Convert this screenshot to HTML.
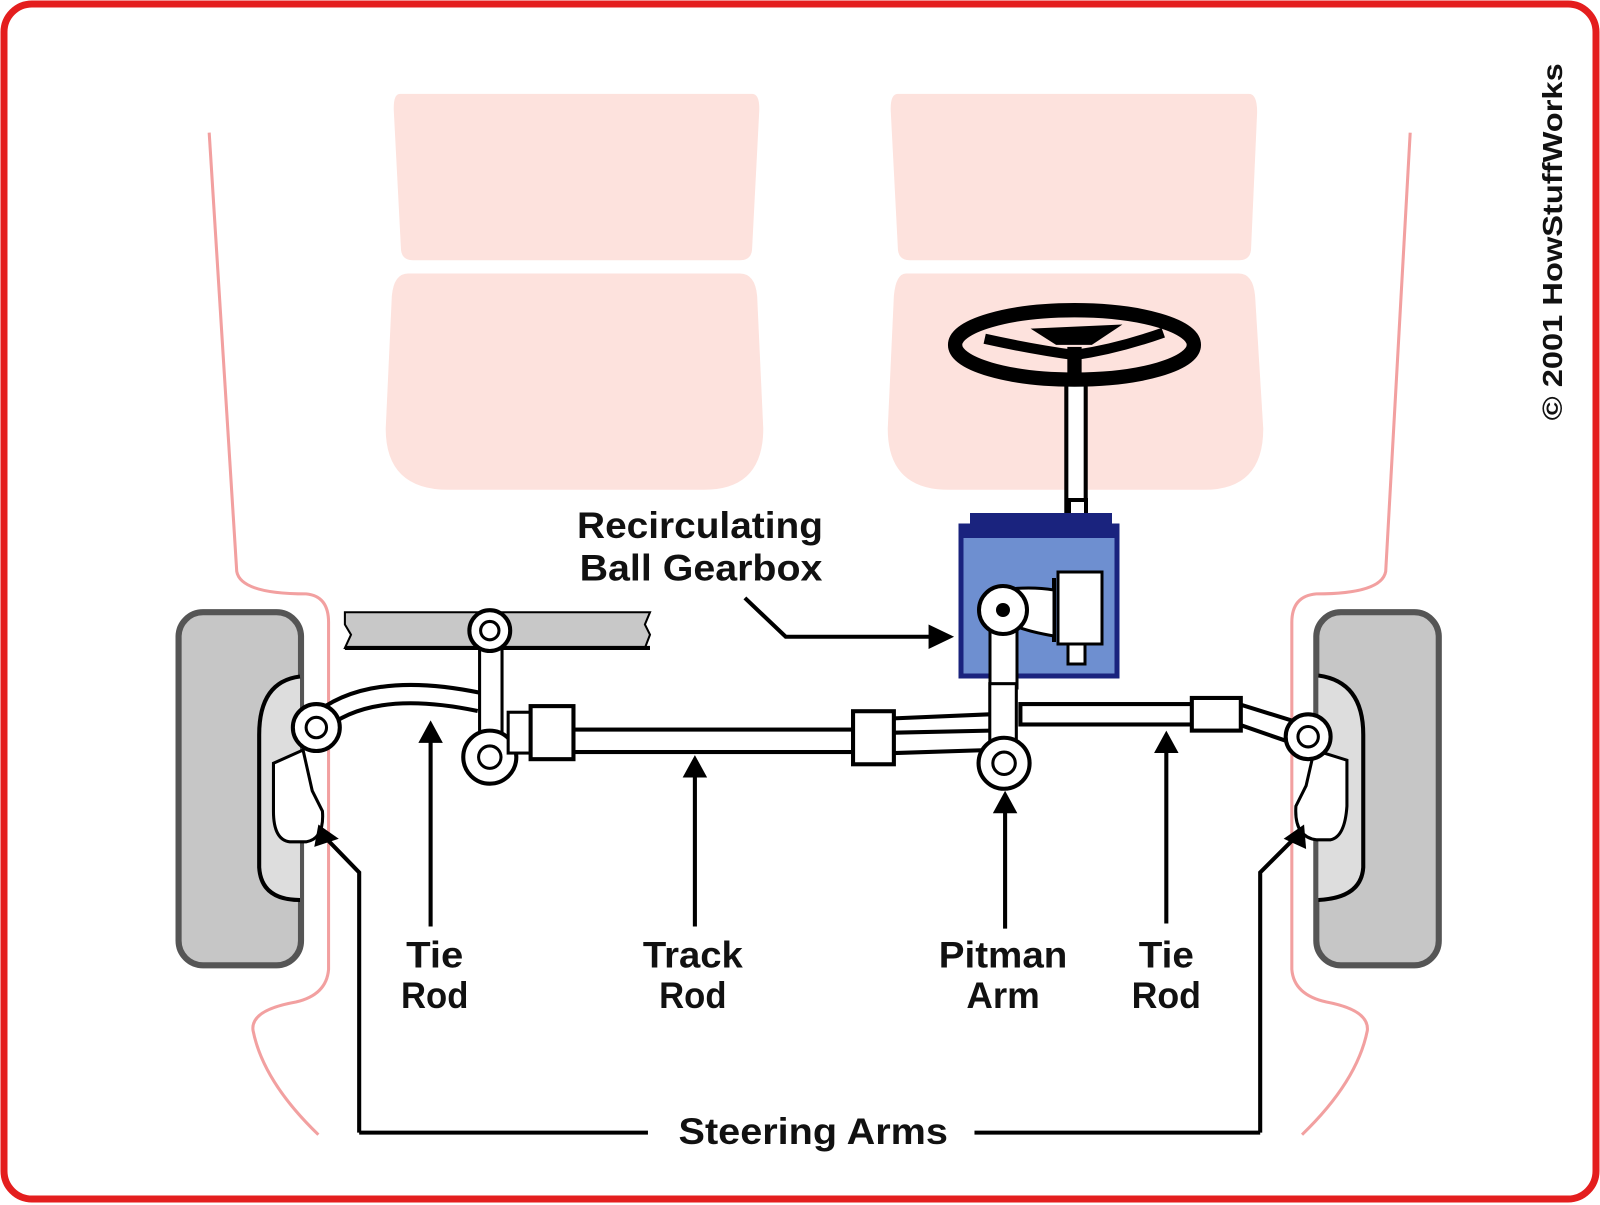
<!DOCTYPE html>
<html><head><meta charset="utf-8"><style>
html,body{margin:0;padding:0;background:#fff;}
svg{display:block;}
text{font-family:"Liberation Sans",sans-serif;font-weight:bold;fill:#111;}
</style></head><body>
<svg width="1600" height="1205" viewBox="0 0 1600 1205" xmlns="http://www.w3.org/2000/svg">
<rect x="4" y="4" width="1592" height="1195" rx="28" fill="#fff" stroke="#e41e1e" stroke-width="7"/>
<g transform="scale(1.0204)">
<!-- body outline -->
<path d="M205,130 L232,560 Q236,582 300,582 Q322,584 322,610 L322,950 Q320,975 290,982 Q245,990 248,1010 Q258,1060 312,1112" fill="none" stroke="#f2a0a0" stroke-width="3"/>
<path d="M1382,130 L1358,560 Q1354,582 1290,582 Q1266,584 1266,610 L1266,950 Q1268,975 1300,982 Q1342,990 1340,1010 Q1330,1060 1276,1112" fill="none" stroke="#f2a0a0" stroke-width="3"/>
<!-- seats -->
<g fill="#fde2dd">
<path d="M392,92 H737 Q745,92 744,110 L737,245 Q736,255 725,255 H405 Q394,255 393,245 L386,110 Q385,92 392,92Z"/>
<path d="M400,268 H725 Q740,268 742,290 L748,420 Q748,480 690,480 H440 Q378,480 378,420 L384,290 Q386,268 400,268Z"/>
<path d="M880,92 H1224 Q1232,92 1232,110 L1226,245 Q1225,255 1214,255 H892 Q881,255 880,245 L873,110 Q872,92 880,92Z"/>
<path d="M888,268 H1214 Q1228,268 1230,290 L1238,420 Q1238,480 1180,480 H930 Q870,480 870,420 L876,290 Q878,268 888,268Z"/>
</g>
<!-- steering wheel -->
<rect x="1045" y="372" width="19" height="140" fill="#fff" stroke="#000" stroke-width="4"/>
<ellipse cx="1053" cy="338" rx="117" ry="34" fill="none" stroke="#000" stroke-width="14"/>
<path d="M965,332 Q1010,342 1053,348 Q1095,342 1140,326" fill="none" stroke="#000" stroke-width="10"/>
<path d="M1010,322 L1100,318 L1070,338 L1035,338Z" fill="#000"/>
<rect x="1046" y="340" width="14" height="34" fill="#000"/>
</g>
<!-- gearbox (original coords) -->
<rect x="1069" y="500" width="17" height="75" fill="#fff" stroke="#000" stroke-width="4"/>
<path d="M970,513 H1112 V527 H970Z" fill="#1a237e"/>
<rect x="961" y="526" width="156" height="150" fill="#6e8fd0" stroke="#1a237e" stroke-width="5"/>
<rect x="963" y="528" width="152" height="10" fill="#1a237e"/>
<rect x="1058" y="572" width="44" height="72" fill="#fff" stroke="#000" stroke-width="3"/>
<rect x="1068" y="644" width="17" height="20" fill="#fff" stroke="#000" stroke-width="3"/>
<path d="M1054,578 V642" stroke="#000" stroke-width="4"/>
<path d="M1000,590 Q1030,586 1054,590 V636 Q1030,632 1015,626" fill="#fff" stroke="#000" stroke-width="3"/>
<rect x="990" y="628" width="27" height="60" fill="#fff" stroke="#000" stroke-width="3"/>
<circle cx="1003" cy="610" r="24" fill="#fff" stroke="#000" stroke-width="4"/>
<circle cx="1003" cy="610" r="7" fill="#000"/>
<g transform="scale(1.0204)">
<!-- wheels -->
<rect x="175" y="600" width="120" height="346" rx="24" fill="#c6c6c6" stroke="#555" stroke-width="6"/>
<rect x="1290" y="600" width="120" height="346" rx="24" fill="#c6c6c6" stroke="#555" stroke-width="6"/>
<path d="M294,663 Q254,668 254,720 V850 Q256,882 294,882" fill="#ddd" stroke="#000" stroke-width="4"/>
<path d="M1292,662 Q1336,668 1336,720 V850 Q1334,880 1292,882" fill="#ddd" stroke="#000" stroke-width="4"/>
<path d="M297,735 L306,775 L316,795 Q318,822 300,825 H284 Q268,823 268,795 V748Z" fill="#fff" stroke="#000" stroke-width="3"/>
<path d="M1288,735 L1280,770 L1270,790 Q1268,820 1290,823 H1304 Q1318,820 1320,790 V745Z" fill="#fff" stroke="#000" stroke-width="3"/>
<!-- frame rail -->
<path d="M338,600 H637 L632,612 L637,622 L632,635 H338 L344,622 L338,612Z" fill="#c8c8c8" stroke="#000" stroke-width="2"/>
<line x1="338" y1="635" x2="637" y2="635" stroke="#000" stroke-width="4"/>
<!-- left tie rod curve -->
<path d="M310,710 Q360,665 470,688" fill="none" stroke="#000" stroke-width="22"/>
<path d="M310,710 Q360,665 470,688" fill="none" stroke="#fff" stroke-width="14"/>
<!-- idler arm -->
<rect x="470" y="620" width="22" height="122" fill="#fff" stroke="#000" stroke-width="3"/>
<circle cx="480" cy="618" r="20" fill="#fff" stroke="#000" stroke-width="4"/>
<circle cx="480" cy="618" r="9" fill="#fff" stroke="#000" stroke-width="3"/>
<circle cx="480" cy="742" r="26" fill="#fff" stroke="#000" stroke-width="4"/>
<circle cx="480" cy="742" r="11" fill="#fff" stroke="#000" stroke-width="3"/>
<!-- track rod -->
<rect x="552" y="715" width="295" height="22" fill="#fff" stroke="#000" stroke-width="4"/>
<rect x="498" y="698" width="22" height="40" fill="#fff" stroke="#000" stroke-width="3"/>
<rect x="520" y="692" width="42" height="52" fill="#fff" stroke="#000" stroke-width="4"/>
<rect x="836" y="697" width="40" height="52" fill="#fff" stroke="#000" stroke-width="4"/>
<path d="M876,704 L970,700 M876,738 L970,735 M876,718 L970,716" stroke="#000" stroke-width="4"/>
<!-- right tie rod -->
<rect x="1000" y="690" width="170" height="20" fill="#fff" stroke="#000" stroke-width="4"/>
<path d="M1214,690 L1272,708 M1214,710 L1266,728" stroke="#000" stroke-width="4"/>
<path d="M1214,693 L1270,712 L1266,724 L1214,707Z" fill="#fff"/>
<rect x="1168" y="684" width="48" height="32" fill="#fff" stroke="#000" stroke-width="4"/>
<!-- pitman lower -->
<rect x="970" y="670" width="26" height="70" fill="#fff" stroke="#000" stroke-width="3"/>
<circle cx="984" cy="748" r="25" fill="#fff" stroke="#000" stroke-width="4"/>
<circle cx="984" cy="748" r="11" fill="#fff" stroke="#000" stroke-width="3"/>
<!-- ball joints -->
<circle cx="310" cy="713" r="23" fill="#fff" stroke="#000" stroke-width="4"/>
<circle cx="310" cy="713" r="10" fill="#fff" stroke="#000" stroke-width="3"/>
<circle cx="1282" cy="722" r="22" fill="#fff" stroke="#000" stroke-width="4"/>
<circle cx="1282" cy="722" r="10" fill="#fff" stroke="#000" stroke-width="3"/>
<!-- arrows -->
<g stroke="#000" stroke-width="4" fill="none">
<path d="M422,908 V725"/><path d="M681,908 V760"/><path d="M985,910 V795"/><path d="M1143,905 V735"/>
<path d="M730,586 L770,624 H915"/>
<path d="M352,1110 V855 L320,822"/><path d="M1235,1110 V855 L1268,822"/>
<path d="M352,1110 H635"/><path d="M955,1110 H1235"/>
</g>
<g fill="#000">
<path d="M410,728 L422,706 L434,728Z"/><path d="M669,762 L681,740 L693,762Z"/><path d="M973,797 L985,775 L997,797Z"/><path d="M1131,738 L1143,716 L1155,738Z"/>
<path d="M910,612 L935,624 L910,636Z"/>
<path d="M308,830 L312,808 L332,822Z"/><path d="M1258,822 L1278,808 L1280,832Z"/>
</g>
<!-- labels -->
<g font-size="36" text-anchor="middle" lengthAdjust="spacingAndGlyphs">
<text x="426" y="948" textLength="56" lengthAdjust="spacingAndGlyphs">Tie</text><text x="426" y="988" textLength="66" lengthAdjust="spacingAndGlyphs">Rod</text>
<text x="679" y="948" textLength="98" lengthAdjust="spacingAndGlyphs">Track</text><text x="679" y="988" textLength="66" lengthAdjust="spacingAndGlyphs">Rod</text>
<text x="983" y="948" textLength="126" lengthAdjust="spacingAndGlyphs">Pitman</text><text x="983" y="988" textLength="72" lengthAdjust="spacingAndGlyphs">Arm</text>
<text x="1143" y="948" textLength="54" lengthAdjust="spacingAndGlyphs">Tie</text><text x="1143" y="988" textLength="68" lengthAdjust="spacingAndGlyphs">Rod</text>
<text x="797" y="1121" textLength="264" lengthAdjust="spacingAndGlyphs">Steering Arms</text>
<text x="686" y="527" textLength="241" lengthAdjust="spacingAndGlyphs">Recirculating</text>
<text x="687" y="569" textLength="238" lengthAdjust="spacingAndGlyphs">Ball Gearbox</text>
</g>
<text transform="translate(1531,412) rotate(-90)" font-size="27" textLength="350" lengthAdjust="spacingAndGlyphs">© 2001 HowStuffWorks</text>
</g>
</svg>
</body></html>
